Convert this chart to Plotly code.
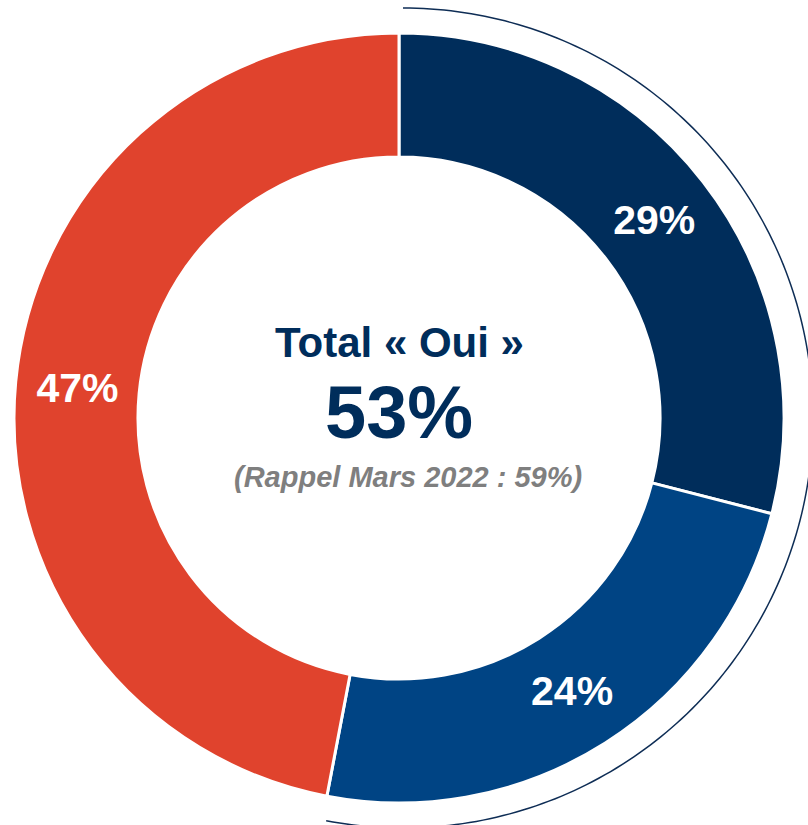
import numpy as np
import plotly.graph_objects as go

# Data
categories = ["Oui, tout à fait", "Oui, plutôt", "Non"]
values = [29, 24, 47]
labels = ["29%", "24%", "47%"]
colors = ["#002D5B", "#004484", "#E0432D"]
center_title = "Total « Oui »"
center_value = "53%"
center_note = "(Rappel Mars 2022 : 59%)"

W, H = 808, 825
cx, cy = 399, 418          # pixel centre (from top)
R = 385                     # donut outer radius in px
R_arc = 410                 # outer "Oui" arc radius

fig = go.Figure()
fig.add_trace(go.Pie(
    labels=categories,
    values=values,
    text=labels,
    textinfo="text",
    textposition="inside",
    insidetextorientation="horizontal",
    insidetextfont=dict(family="Liberation Sans, Arial, sans-serif", size=41, color="white", weight="bold"),
    marker=dict(colors=colors, line=dict(color="white", width=3)),
    hole=0.678,
    sort=False,
    direction="clockwise",
    rotation=0,
    showlegend=False,
    hoverinfo="label+percent",
    domain=dict(x=[(cx - R) / W, (cx + R) / W], y=[(H - cy - R) / H, (H - cy + R) / H]),
))

# outer arc spanning the "Oui" share
oui_share = sum(values[:2]) / sum(values)
theta = np.linspace(0, 2 * np.pi * oui_share, 200)
px = cx + 4 + R_arc * np.sin(theta)
py = cy - R_arc * np.cos(theta)
path = "M " + " L ".join(f"{x / W:.5f},{(H - y) / H:.5f}" for x, y in zip(px, py))
fig.add_shape(type="path", path=path, xref="paper", yref="paper",
              line=dict(color="#0E2D55", width=1.5), layer="above")

font_fam = "Liberation Sans, Arial, sans-serif"
fig.add_annotation(x=cx / W, y=(H - 342) / H, xref="paper", yref="paper",
                   text=center_title, showarrow=False, yanchor="middle",
                   font=dict(family=font_fam, size=42, color="#002D5B", weight="bold"))
fig.add_annotation(x=cx / W, y=(H - 412) / H, xref="paper", yref="paper",
                   text=center_value, showarrow=False, yanchor="middle",
                   font=dict(family=font_fam, size=74, color="#002D5B", weight="bold"))
fig.add_annotation(x=(cx + 9) / W, y=(H - 477) / H, xref="paper", yref="paper",
                   text=center_note, showarrow=False, yanchor="middle",
                   font=dict(family=font_fam, size=29, color="#7F7F7F", weight="bold", style="italic"))

fig.update_layout(width=W, height=H, margin=dict(l=0, r=0, t=0, b=0),
                  paper_bgcolor="white", plot_bgcolor="white")
fig.write_html("out.html", config={"displayModeBar": False},
               post_script="document.body.style.margin='0';")
